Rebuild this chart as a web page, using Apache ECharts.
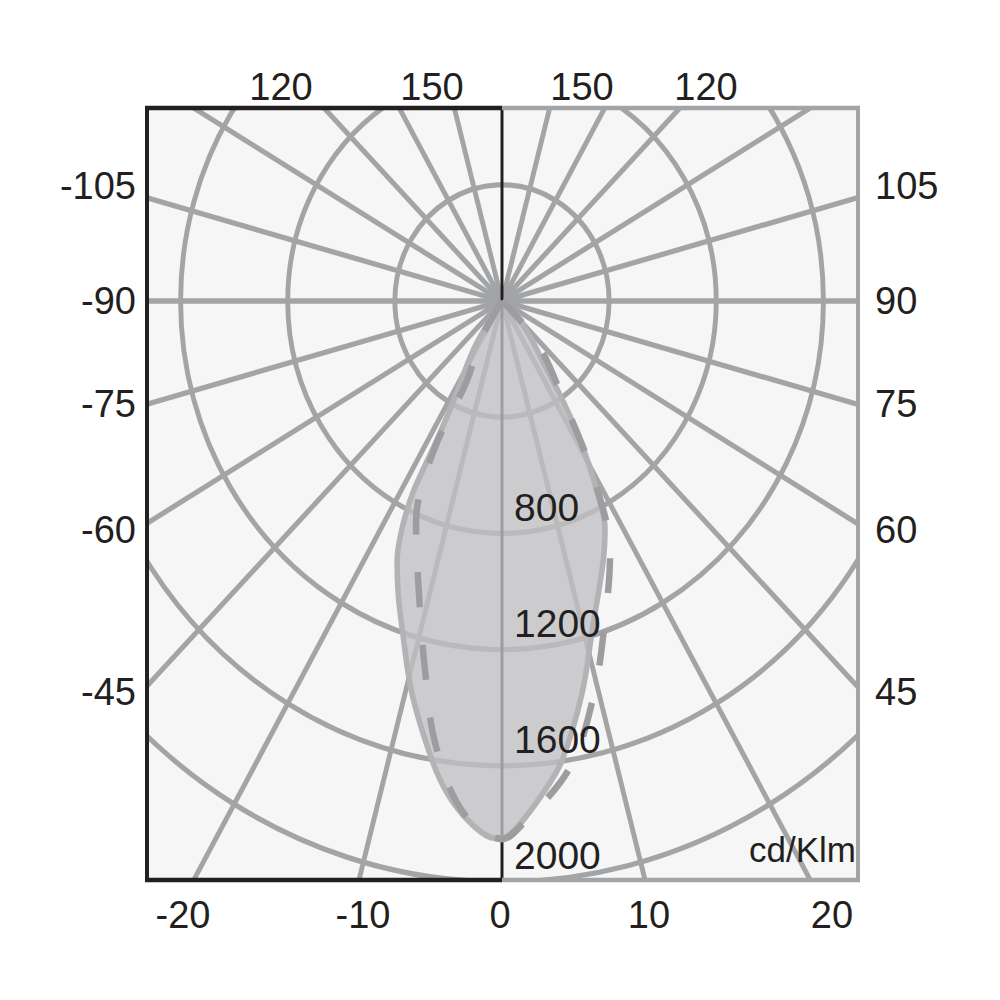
<!DOCTYPE html>
<html>
<head>
<meta charset="utf-8">
<script src="https://cdn.jsdelivr.net/npm/echarts@6/dist/echarts.min.js"></script>
<style>
  html, body { margin: 0; padding: 0; background: #ffffff; overflow: hidden; }
  /* the reference diagram is drawn horizontally compressed (rings are ellipses) */
  #chart { width: 1085px; height: 1000px; transform: scaleX(0.922); transform-origin: 0 0; }
</style>
</head>
<body>
<div id="chart"></div>
<script>
// ---------------- data ----------------
// luminous intensity [cd/klm, gamma angle in degrees], C0-C180 plane (solid, filled)
const planeC0C180 = [
  [0, -45], [79, -34.4], [200, -32.4], [374, -28.0], [537, -26.9], [652, -26.9],
  [748, -26.7], [866, -25.5], [974, -23.7], [1077, -21.1], [1183, -18.4],
  [1391, -14.0], [1601, -9.4], [1706, -6.9], [1791, -4.1], [1846, -1.4],
  [1850, 0], [1812, 1.8], [1700, 5.2], [1596, 8.1], [1382, 12.5], [1172, 16.8],
  [974, 22.8], [871, 26.2], [758, 28.2], [641, 30.1], [515, 32.0], [389, 33.8],
  [260, 36.1], [126, 42.7], [0, 50]
];
// C90-C270 plane (dashed)
const planeC90C270 = [
  [0, -40], [150, -31], [307, -25.5], [579, -26.3], [828, -22.8], [1064, -16.9],
  [1306, -12.7], [1543, -9.3], [1764, -4.8], [1852, 0], [1800, 2.5], [1625, 9.0],
  [1402, 14.1], [1172, 19.1], [958, 24.9], [688, 29.5], [441, 33.2], [191, 42.7],
  [0, 55]
];
// tick labels
const leftAngleLabels = ['-105', '-90', '-75', '-60', '-45'];
const rightAngleLabels = ['105', '90', '75', '60', '45'];
const topAngleLabels = ['120', '150', '150', '120'];
const bottomLabels = ['-20', '-10', '0', '10', '20'];
const radiusLabelValues = [800, 1200, 1600, 2000];
const unitLabel = 'cd/Klm';

// ---------------- layout / style ----------------
const K = 0.922;                       // horizontal compression of the whole diagram
const FRAME = { left: 147, right: 858, top: 108, bottom: 880 }; // screen px
const CENTER = [502, 301];             // screen px
const RADIUS_MAX = 2400;
const PX_PER_CD = 0.2905;
const LEFT_LABEL_Y = [186, 301, 404, 530, 692];
const RIGHT_LABEL_Y = [186, 301, 404, 530, 692];
const TOP_LABEL_X = [281, 432, 582, 706];
const BOTTOM_LABEL_X = [183, 363, 500, 649, 832];
const GRID = '#a3a4a6';
const INK = '#231f20';
const FONT = '"Liberation Sans", Arial, Helvetica, sans-serif';

const sx = v => v / K;   // screen x -> chart x

// split line colours (the 0 / 180 radial lines are replaced by the thin black axis)
const splitColors = [];
for (let a = -180; a < 180; a += 15) {
  splitColors.push((a === -180 || a === 0) ? 'rgba(0,0,0,0)' : GRID);
}

const chart = echarts.init(document.getElementById('chart'), null, { renderer: 'svg' });

chart.setOption({
  animation: false,
  backgroundColor: '#ffffff',
  polar: { center: [sx(CENTER[0]), CENTER[1]], radius: RADIUS_MAX * PX_PER_CD },
  angleAxis: {
    type: 'value', min: -180, max: 180, interval: 15,
    startAngle: 90, clockwise: false, z: 0,
    axisLine: { show: false }, axisTick: { show: false }, axisLabel: { show: false },
    splitLine: { show: true, lineStyle: { color: splitColors, width: 5.3 } }
  },
  radiusAxis: {
    type: 'value', min: 0, max: RADIUS_MAX, interval: 400, z: 0,
    axisLine: { show: false }, axisTick: { show: false }, axisLabel: { show: false },
    splitLine: { show: true, lineStyle: { color: GRID, width: 5.3 } }
  },
  series: [
    {
      name: 'C0-C180', type: 'line', coordinateSystem: 'polar',
      data: planeC0C180, smooth: 0.35, showSymbol: false, z: 2,
      lineStyle: { color: '#b3b3b5', width: 6 },
      areaStyle: { color: 'rgba(192,192,195,0.78)', opacity: 1 }
    },
    {
      name: 'C90-C270', type: 'line', coordinateSystem: 'polar',
      data: planeC90C270, smooth: 0.35, showSymbol: false, z: 3,
      lineStyle: { color: '#9d9d9f', width: 7, type: [35, 38] }
    }
  ]
});

// ---------------- frame, covers and labels ----------------
const L = sx(FRAME.left), R = sx(FRAME.right), T = FRAME.top, B = FRAME.bottom;
const C = chart.convertToPixel({ polarIndex: 0 }, [0, 0]);
const W = 1085, H = 1000;
const els = [];

els.push({ type: 'rect', z: -5, shape: { x: L, y: T, width: R - L, height: B - T }, style: { fill: '#f6f6f7' }, silent: true });
// white covers outside the frame (clip the polar grid)
[[0, 0, W, T], [0, B, W, H - B], [0, 0, L, H], [R, 0, W - R, H]].forEach(r => {
  els.push({ type: 'rect', z: 10, shape: { x: r[0], y: r[1], width: r[2], height: r[3] }, style: { fill: '#ffffff' }, silent: true });
});
// black central axis (under the fill)
els.push({ type: 'line', z: 1, shape: { x1: C[0], y1: T, x2: C[0], y2: B }, style: { stroke: INK, lineWidth: 3.2 }, silent: true });
// frame: left half black, right half gray
els.push({ type: 'polyline', z: 11, shape: { points: [[C[0], T], [R, T], [R, B], [C[0], B]] }, style: { stroke: GRID, lineWidth: 4.3, fill: null }, silent: true });
els.push({ type: 'polyline', z: 12, shape: { points: [[C[0], T], [L, T], [L, B], [C[0], B]] }, style: { stroke: INK, lineWidth: 4.3, fill: null }, silent: true });

function txt(text, x, y, size, align, vAlign) {
  return {
    type: 'text', z: 20, x: x, y: y, scaleX: 1 / K, silent: true,
    style: { text: text, fill: INK, fontSize: size, fontFamily: FONT, align: align, verticalAlign: vAlign }
  };
}
leftAngleLabels.forEach((t, i) => els.push(txt(t, sx(136), LEFT_LABEL_Y[i], 38, 'right', 'middle')));
rightAngleLabels.forEach((t, i) => els.push(txt(t, sx(875), RIGHT_LABEL_Y[i], 38, 'left', 'middle')));
topAngleLabels.forEach((t, i) => els.push(txt(t, sx(TOP_LABEL_X[i]), 87, 38, 'center', 'middle')));
bottomLabels.forEach((t, i) => els.push(txt(t, sx(BOTTOM_LABEL_X[i]), 915, 38, 'center', 'middle')));
radiusLabelValues.forEach(v => {
  const p = chart.convertToPixel({ polarIndex: 0 }, [v, 0]);
  els.push(txt(String(v), p[0] + sx(12), p[1] - 26, 39, 'left', 'middle'));
});
els.push(txt(unitLabel, R - sx(2), 850, 35, 'right', 'middle'));

chart.setOption({ graphic: { elements: els } });
</script>
</body>
</html>
